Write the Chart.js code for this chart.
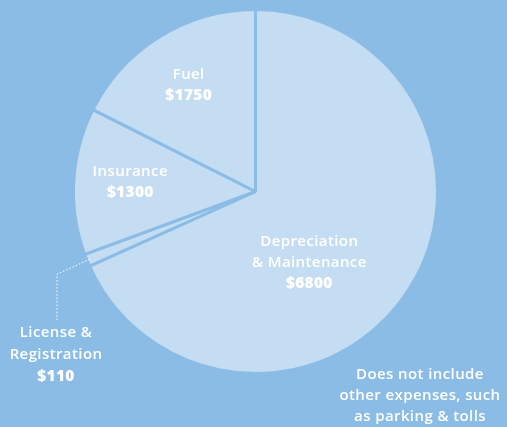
<!DOCTYPE html>
<html>
<head>
<meta charset="utf-8">
<script src="https://cdn.jsdelivr.net/npm/chart.js@4/dist/chart.umd.min.js"></script>
<style>
  html, body { margin: 0; padding: 0; background: #8bbce6; }
  #wrap { width: 507px; height: 427px; position: relative; }
</style>
</head>
<body>
<div id="wrap"><canvas id="pie"></canvas></div>
<script>
// data, clockwise from the top
var categories = ["Depreciation & Maintenance", "License & Registration", "Insurance", "Fuel"];
var costs = [6800, 110, 1300, 1750];
// text lines for each slice label
var nameLines = [["Depreciation", "& Maintenance"], ["License &", "Registration"], ["Insurance"], ["Fuel"]];
var valueLines = ["$6800", "$110", "$1300", "$1750"];
var noteLines = ["Does not include", "other expenses, such", "as parking & tolls"];

var bgColor = "#8bbce6";
var sliceColor = "#c5ddf2";
var fontFamily = "'Open Sans', sans-serif";

// where each inside label sits: fraction of radius, angle tweak (deg)
var labelPos = [[0.49, 20], null, [0.69, 1], [0.69, -0.5]];

function setFont(ctx, bold) {
	ctx.font = (bold ? "800 15.5px " : "600 15px ") + fontFamily;
	ctx.letterSpacing = bold ? "0.3px" : "0.4px";
}

var labelPlugin = {
	id: "sliceLabels",
	afterDatasetsDraw: function (chart) {
		var ctx = chart.ctx;
		var arcs = chart.getDatasetMeta(0).data;
		ctx.save();
		ctx.fillStyle = "#ffffff";
		ctx.textAlign = "center";
		ctx.textBaseline = "middle";
		var lh = 21;
		arcs.forEach(function (arc, i) {
			var p = arc.getProps(["x", "y", "startAngle", "endAngle", "outerRadius"], true);
			var mid = (p.startAngle + p.endAngle) / 2;
			var lines = nameLines[i];
			if (labelPos[i]) {
				var a = mid + labelPos[i][1] * Math.PI / 180;
				var r = p.outerRadius * labelPos[i][0];
				var cx = p.x + Math.cos(a) * r;
				var cy = p.y + Math.sin(a) * r;
				var total = lines.length + 1;
				var y0 = cy - (total - 1) * lh / 2;
				setFont(ctx, false);
				lines.forEach(function (t, k) { ctx.fillText(t, cx, y0 + k * lh); });
				setFont(ctx, true);
				ctx.fillText(valueLines[i], cx, y0 + lines.length * lh);
			} else {
				// small slice: dotted leader out to the left
				var ex = p.x + Math.cos(mid) * (p.outerRadius - 3);
				var ey = p.y + Math.sin(mid) * (p.outerRadius - 3);
				var lx = 57;
				ctx.strokeStyle = "#ffffff";
				ctx.lineWidth = 1;
				ctx.setLineDash([1.5, 2]);
				ctx.beginPath();
				ctx.moveTo(ex, ey);
				ctx.lineTo(lx, ey + 15);
				ctx.lineTo(lx, ey + 61);
				ctx.stroke();
				ctx.setLineDash([]);
				var ty = ey + 74;
				setFont(ctx, false);
				lines.forEach(function (t, k) { ctx.fillText(t, lx - 1, ty + k * 21.5); });
				setFont(ctx, true);
				ctx.fillText(valueLines[i], lx - 1, ty + lines.length * 21.5);
			}
		});
		// footnote
		setFont(ctx, false);
		noteLines.forEach(function (t, k) { ctx.fillText(t, 420, 375 + k * lh); });
		ctx.restore();
	}
};

var chart = new Chart(document.getElementById("pie"), {
	type: "pie",
	data: {
		labels: categories,
		datasets: [{
			data: costs,
			backgroundColor: sliceColor,
			borderColor: bgColor,
			borderWidth: 3,
			hoverOffset: 0
		}]
	},
	options: {
		responsive: true,
		maintainAspectRatio: false,
		animation: false,
		events: [],
		layout: { padding: { top: 8, bottom: 52, left: 4, right: 0 } },
		plugins: {
			legend: { display: false },
			tooltip: { enabled: false }
		}
	},
	plugins: [labelPlugin]
});
</script>
</body>
</html>
